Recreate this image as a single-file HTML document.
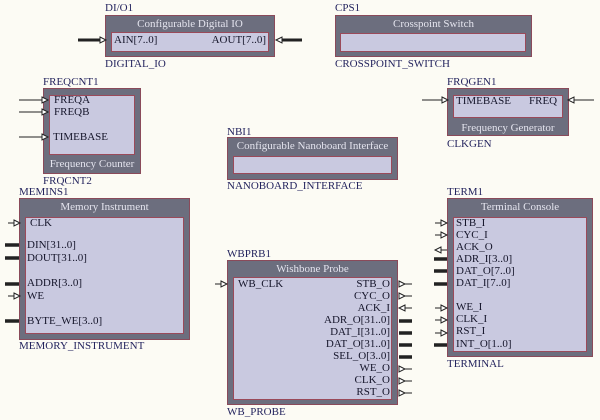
<!DOCTYPE html>
<html><head><meta charset="utf-8"><style>
*{margin:0;padding:0;box-sizing:border-box}
body{width:600px;height:420px;background:#fcfbf4;position:relative;overflow:hidden;font-family:"Liberation Serif",serif;font-size:11px}
.o{position:absolute;background:#6c6e7e;border:1px solid #8a4a5a}
.i{position:absolute;background:#c9c9e0;border:1.5px solid #9a4a5a}
.t{position:absolute;white-space:nowrap;line-height:11px;color:#15152a}
.l{position:absolute;white-space:nowrap;line-height:11px;color:#24245e}
.h{position:absolute;white-space:nowrap;line-height:11px;color:#e4e4ee;text-align:center}
.r{text-align:right}
svg{position:absolute;left:0;top:0}
</style></head><body>

<!-- DIO -->
<div class="l" style="left:105px;top:3px">DI/O1</div>
<div class="o" style="left:105px;top:15px;width:170px;height:42px"></div>
<div class="h" style="left:105px;top:19px;width:170px">Configurable Digital IO</div>
<div class="i" style="left:111px;top:32px;width:158px;height:20px"></div>
<div class="t" style="left:114px;top:35px">AIN[7..0]</div>
<div class="t r" style="left:200px;top:35px;width:66px">AOUT[7..0]</div>
<div class="l" style="left:105px;top:59px">DIGITAL_IO</div>

<!-- CPS -->
<div class="l" style="left:335px;top:3px">CPS1</div>
<div class="o" style="left:335px;top:15px;width:197px;height:42px"></div>
<div class="h" style="left:335px;top:19px;width:197px">Crosspoint Switch</div>
<div class="i" style="left:340px;top:33px;width:186px;height:19px"></div>
<div class="l" style="left:335px;top:59px">CROSSPOINT_SWITCH</div>

<!-- FREQCNT -->
<div class="l" style="left:43px;top:77px">FREQCNT1</div>
<div class="o" style="left:43px;top:88px;width:98px;height:86px"></div>
<div class="i" style="left:49px;top:95px;width:86px;height:60px"></div>
<div class="t" style="left:54px;top:95px">FREQA</div>
<div class="t" style="left:54px;top:107px">FREQB</div>
<div class="t" style="left:53px;top:132px">TIMEBASE</div>
<div class="h" style="left:43px;top:159px;width:98px">Frequency Counter</div>
<div class="l" style="left:43px;top:176px">FRQCNT2</div>

<!-- FRQGEN -->
<div class="l" style="left:447px;top:77px">FRQGEN1</div>
<div class="o" style="left:447px;top:88px;width:122px;height:48px"></div>
<div class="i" style="left:453px;top:95px;width:110px;height:23px"></div>
<div class="t" style="left:456px;top:96px">TIMEBASE</div>
<div class="t" style="left:529px;top:96px">FREQ</div>
<div class="h" style="left:447px;top:123px;width:122px">Frequency Generator</div>
<div class="l" style="left:447px;top:139px">CLKGEN</div>

<!-- NBI -->
<div class="l" style="left:227px;top:127px">NBI1</div>
<div class="o" style="left:227px;top:137px;width:171px;height:43px"></div>
<div class="h" style="left:227px;top:141px;width:171px">Configurable Nanoboard Interface</div>
<div class="i" style="left:233px;top:156px;width:159px;height:18px"></div>
<div class="l" style="left:227px;top:181px">NANOBOARD_INTERFACE</div>

<!-- MEMINS -->
<div class="l" style="left:19px;top:187px">MEMINS1</div>
<div class="o" style="left:19px;top:198px;width:171px;height:142px"></div>
<div class="h" style="left:19px;top:202px;width:171px">Memory Instrument</div>
<div class="i" style="left:25px;top:217px;width:159px;height:117px"></div>
<div class="t" style="left:30px;top:218px">CLK</div>
<div class="t" style="left:27px;top:240px">DIN[31..0]</div>
<div class="t" style="left:27px;top:253px">DOUT[31..0]</div>
<div class="t" style="left:27px;top:278px">ADDR[3..0]</div>
<div class="t" style="left:27px;top:291px">WE</div>
<div class="t" style="left:27px;top:316px">BYTE_WE[3..0]</div>
<div class="l" style="left:19px;top:341px">MEMORY_INSTRUMENT</div>

<!-- WBPRB -->
<div class="l" style="left:227px;top:249px">WBPRB1</div>
<div class="o" style="left:227px;top:260px;width:171px;height:145px"></div>
<div class="h" style="left:227px;top:264px;width:171px">Wishbone Probe</div>
<div class="i" style="left:233px;top:277px;width:159px;height:123px"></div>
<div class="t" style="left:238px;top:279px">WB_CLK</div>
<div class="t r" style="left:300px;top:279px;width:90px">STB_O</div>
<div class="t r" style="left:300px;top:291px;width:90px">CYC_O</div>
<div class="t r" style="left:300px;top:303px;width:90px">ACK_I</div>
<div class="t r" style="left:300px;top:315px;width:90px">ADR_O[31..0]</div>
<div class="t r" style="left:300px;top:327px;width:90px">DAT_I[31..0]</div>
<div class="t r" style="left:300px;top:339px;width:90px">DAT_O[31..0]</div>
<div class="t r" style="left:300px;top:351px;width:90px">SEL_O[3..0]</div>
<div class="t r" style="left:300px;top:363px;width:90px">WE_O</div>
<div class="t r" style="left:300px;top:375px;width:90px">CLK_O</div>
<div class="t r" style="left:300px;top:387px;width:90px">RST_O</div>
<div class="l" style="left:227px;top:407px">WB_PROBE</div>

<!-- TERM -->
<div class="l" style="left:447px;top:187px">TERM1</div>
<div class="o" style="left:447px;top:198px;width:146px;height:159px"></div>
<div class="h" style="left:447px;top:202px;width:146px">Terminal Console</div>
<div class="i" style="left:453px;top:217px;width:134px;height:135px"></div>
<div class="t" style="left:456px;top:218px">STB_I</div>
<div class="t" style="left:456px;top:230px">CYC_I</div>
<div class="t" style="left:456px;top:242px">ACK_O</div>
<div class="t" style="left:456px;top:254px">ADR_I[3..0]</div>
<div class="t" style="left:456px;top:266px">DAT_O[7..0]</div>
<div class="t" style="left:456px;top:278px">DAT_I[7..0]</div>
<div class="t" style="left:456px;top:302px">WE_I</div>
<div class="t" style="left:456px;top:314px">CLK_I</div>
<div class="t" style="left:456px;top:326px">RST_I</div>
<div class="t" style="left:456px;top:339px">INT_O[1..0]</div>
<div class="l" style="left:447px;top:359px">TERMINAL</div>

<svg width="600" height="420" fill="none" stroke="#222" stroke-width="1">
<!-- DIO buses -->
<line x1="78" y1="40" x2="100" y2="40" stroke-width="3"/>
<path d="M100 37 L106 40 L100 43 Z" fill="#fff"/>
<line x1="282" y1="40" x2="302" y2="40" stroke-width="3"/>
<path d="M276 40 L282 37 L282 43 Z" fill="#fff"/>
<!-- FREQCNT -->
<g>
<line x1="19" y1="100" x2="42" y2="100"/><path d="M42 97 L48 100 L42 103 Z" fill="#fff"/>
<line x1="19" y1="112" x2="42" y2="112"/><path d="M42 109 L48 112 L42 115 Z" fill="#fff"/>
<line x1="19" y1="137" x2="42" y2="137"/><path d="M42 134 L48 137 L42 140 Z" fill="#fff"/>
</g>
<!-- FRQGEN -->
<line x1="422" y1="100" x2="442" y2="100"/><path d="M442 97 L448 100 L442 103 Z" fill="#fff"/>
<line x1="574" y1="100" x2="594" y2="100"/><path d="M568 100 L574 97 L574 103 Z" fill="#fff"/>
<!-- MEMINS -->
<line x1="8" y1="223" x2="14" y2="223"/><path d="M14 220 L20 223 L14 226 Z" fill="#fff"/>
<line x1="5" y1="245" x2="19" y2="245" stroke-width="3.5"/>
<line x1="5" y1="258" x2="19" y2="258" stroke-width="3.5"/>
<line x1="5" y1="284" x2="19" y2="284" stroke-width="3.5"/>
<line x1="8" y1="296" x2="14" y2="296"/><path d="M14 293 L20 296 L14 299 Z" fill="#fff"/>
<line x1="5" y1="321" x2="19" y2="321" stroke-width="3.5"/>
<!-- WBPRB left -->
<line x1="215" y1="284" x2="221" y2="284"/><path d="M221 281 L227 284 L221 287 Z" fill="#fff"/>
<!-- WBPRB right -->
<g>
<path d="M399 281 L405 284 L399 287 Z" fill="#fff"/><line x1="405" y1="284" x2="412" y2="284"/>
<path d="M399 293 L405 296 L399 299 Z" fill="#fff"/><line x1="405" y1="296" x2="412" y2="296"/>
<path d="M405 305 L399 308 L405 311 Z" fill="#fff"/><line x1="405" y1="308" x2="412" y2="308"/>
<line x1="399" y1="321" x2="412" y2="321" stroke-width="3.5"/>
<line x1="399" y1="333" x2="412" y2="333" stroke-width="3.5"/>
<line x1="399" y1="345" x2="412" y2="345" stroke-width="3.5"/>
<line x1="399" y1="357" x2="412" y2="357" stroke-width="3.5"/>
<path d="M399 366 L405 369 L399 372 Z" fill="#fff"/><line x1="405" y1="369" x2="412" y2="369"/>
<path d="M399 378 L405 381 L399 384 Z" fill="#fff"/><line x1="405" y1="381" x2="412" y2="381"/>
<path d="M399 390 L405 393 L399 396 Z" fill="#fff"/><line x1="405" y1="393" x2="412" y2="393"/>
</g>
<!-- TERM left -->
<g>
<line x1="435" y1="223" x2="441" y2="223"/><path d="M441 220 L447 223 L441 226 Z" fill="#fff"/>
<line x1="435" y1="235" x2="441" y2="235"/><path d="M441 232 L447 235 L441 238 Z" fill="#fff"/>
<path d="M441 247 L435 250 L441 253 Z" fill="#fff"/><line x1="441" y1="250" x2="447" y2="250"/>
<line x1="434" y1="259" x2="447" y2="259" stroke-width="3.5"/>
<line x1="434" y1="271" x2="447" y2="271" stroke-width="3.5"/>
<line x1="434" y1="284" x2="447" y2="284" stroke-width="3.5"/>
<line x1="435" y1="308" x2="441" y2="308"/><path d="M441 305 L447 308 L441 311 Z" fill="#fff"/>
<line x1="435" y1="320" x2="441" y2="320"/><path d="M441 317 L447 320 L441 323 Z" fill="#fff"/>
<line x1="435" y1="333" x2="441" y2="333"/><path d="M441 330 L447 333 L441 336 Z" fill="#fff"/>
<line x1="434" y1="345" x2="447" y2="345" stroke-width="3.5"/>
</g>
</svg>
</body></html>
